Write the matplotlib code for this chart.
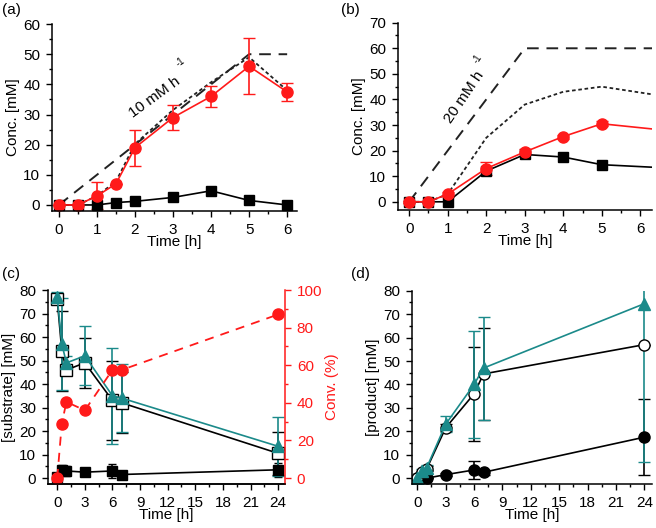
import matplotlib
matplotlib.use('Agg')
import matplotlib.pyplot as plt
from matplotlib.ticker import MultipleLocator
import numpy as np

plt.rcParams['font.family'] = ['Liberation Sans', 'DejaVu Sans']
plt.rcParams['font.size'] = 11
plt.rcParams['axes.linewidth'] = 1.1

RED = '#ff1a1a'
TEAL = '#1b8a8a'

# (a) 10 mM/h feed
t_a = [0, 0.5, 1, 1.5, 2, 3, 4, 5, 6]
red_a = [0, 0, 3, 7, 19, 29, 36, 46, 37.5]
red_a_err = [0, 0, 4.5, 0, 6, 4.3, 3.5, 9.3, 3]
blk_a = [0, 0, 0, 0.8, 1.2, 2.5, 4.7, 1.5, 0]
blk_a_err = [0, 0, 0, 0.3, 0.5, 0.6, 0.7, 0.5, 0.3]
sum_a = [0, 0, 3, 7.8, 20.2, 31.5, 40.7, 49, 38]
feed_a_t = [0, 5, 6]
feed_a = [0, 50, 50]

# (b) 20 mM/h feed
t_b = [0, 0.5, 1, 2, 3, 4, 5, 7]
red_b = [0, 0, 3, 13, 19.5, 25.5, 30.5, 27.4]
red_b_err = [0.5, 0.5, 1, 2.5, 1, 0.8, 1, 0]
blk_b = [0, 0, 0, 12, 18.5, 17.5, 14.5, 13]
blk_b_err = [0.3, 0.3, 0.3, 1, 1, 1, 1, 0]
sum_b = [0, 0, 3, 25, 38, 43, 45, 40.4]
feed_b_t = [0, 3, 7]
feed_b = [0, 60, 60]

# (c) substrate + conversion
t_cd = [0, 0.5, 1, 3, 6, 7, 24]
sub_tri = [77, 57, 49, 52, 35, 34, 13.5]
sub_tri_err = [2, 19.5, 3, 12.5, 20.5, 14.5, 12.5]
sub_open = [76, 54, 46, 49, 33, 32, 10.5]
sub_open_err = [1, 17, 1.5, 10.5, 17, 13, 9]
sub_fill = [0.5, 3.5, 3, 2.5, 3, 1.5, 3.5]
sub_fill_err = [0.5, 2, 2, 1, 3, 1, 3]
conv = [0, 29, 40.5, 36, 57.5, 57.5, 87]

# (d) product
prod_tri = [0, 3, 4.5, 23, 40, 47, 74.5]
prod_tri_err = [0, 1, 1, 3.5, 23, 22, 67.5]
prod_open = [0, 2.5, 4, 21.5, 36, 44.5, 57]
prod_open_err = [0, 0.5, 1, 1.5, 20, 19.5, 0]
prod_fill = [0, 0, 0, 1.5, 3.5, 2.5, 17.5]
prod_fill_err = [0, 0, 0, 0.5, 3.8, 1, 16.2]


def style(ax, xmin, ymin):
    ax.spines['top'].set_visible(False)
    ax.spines['right'].set_visible(False)
    ax.xaxis.set_minor_locator(MultipleLocator(xmin))
    ax.yaxis.set_minor_locator(MultipleLocator(ymin))
    ax.tick_params(which='major', length=4, width=1, pad=4.5)
    ax.tick_params(which='minor', length=2.5, width=1)
    ax.set_xlabel('Time [h]', labelpad=-1)


fig = plt.figure(figsize=(6.56, 5.28), dpi=100)
ax1 = fig.add_axes([0.0793, 0.6004, 0.3735, 0.354])
ax2 = fig.add_axes([0.6067, 0.6023, 0.387, 0.3547])
ax3 = fig.add_axes([0.0732, 0.0833, 0.3613, 0.3674])
ax4 = fig.add_axes([0.628, 0.0833, 0.3659, 0.366])

# (a)
ax1.plot(feed_a_t, feed_a, color='#222222', lw=1.4, dashes=(6, 4))
ax1.plot(t_a, sum_a, color='#222222', lw=1.3, dashes=(2, 1.5))
ax1.errorbar(t_a, blk_a, yerr=blk_a_err, color='black', marker='s', ms=7, lw=1.2, capsize=3)
ax1.errorbar(t_a, red_a, yerr=red_a_err, color=RED, marker='o', ms=8, lw=1.2, capsize=4, elinewidth=1.2)
ax1.set_xlim(-0.18, 6.26)
ax1.set_ylim(-2, 60)
ax1.set_xticks(range(0, 7))
ax1.set_yticks(range(0, 61, 10))
style(ax1, 0.5, 5)
ax1.set_ylabel('Conc. [mM]', labelpad=2)
ax1.text(2.53, 35.8, '10 mM h', rotation=36, ha='center', va='center', fontsize=11)
ax1.text(3.19, 47.4, '-1', rotation=36, ha='center', va='center', fontsize=7)
fig.text(0.003, 0.995, '(a)', ha='left', va='top', fontsize=11)

# (b)
ax2.plot(feed_b_t, feed_b, color='#222222', lw=1.4, dashes=(6, 4))
ax2.plot(t_b, sum_b, color='#222222', lw=1.3, dashes=(2, 1.5))
ax2.errorbar(t_b, blk_b, yerr=blk_b_err, color='black', marker='s', ms=7, lw=1.2, capsize=3)
ax2.errorbar(t_b, red_b, yerr=red_b_err, color=RED, marker='o', ms=8, lw=1.2, capsize=4)
ax2.set_xlim(-0.29, 6.3)
ax2.set_ylim(-3.2, 70)
ax2.set_xticks(range(0, 7))
ax2.set_yticks(range(0, 71, 10))
style(ax2, 0.5, 5)
ax2.set_ylabel('Conc. [mM]', labelpad=2)
ax2.text(1.43, 41, '20 mM h', rotation=56, ha='center', va='center', fontsize=11)
ax2.text(1.77, 56, '-1', rotation=56, ha='center', va='center', fontsize=7)
fig.text(0.52, 0.995, '(b)', ha='left', va='top', fontsize=11)

# (c)
ax3.errorbar(t_cd, sub_fill, yerr=sub_fill_err, color='black', marker='s', ms=7, lw=1.2, capsize=3)
ax3.errorbar(t_cd, sub_open, yerr=sub_open_err, color='black', marker='s', ms=8, mfc='white', lw=1.2, capsize=4)
ax3.errorbar(t_cd, sub_tri, yerr=sub_tri_err, color=TEAL, marker='^', ms=9, lw=1.2, capsize=4)
ax3.set_xlim(-1.0, 24.75)
ax3.set_ylim(-2.55, 80)
ax3.set_xticks(range(0, 25, 3))
ax3.set_yticks(range(0, 81, 10))
style(ax3, 1.5, 5)
ax3.set_ylabel('[substrate] [mM]', labelpad=2)
ax3r = ax3.twinx()
ax3r.plot(t_cd, conv, color=RED, marker='o', ms=8, lw=1.3, dashes=(5, 4))
ax3r.set_ylim(-2.55 * 100 / 80, 100)
ax3r.set_yticks(range(0, 101, 20))
ax3r.yaxis.set_minor_locator(MultipleLocator(10))
ax3r.spines['top'].set_visible(False)
ax3r.spines['left'].set_visible(False)
ax3r.spines['right'].set_color(RED)
ax3r.tick_params(axis='y', which='both', colors=RED)
ax3r.tick_params(which='major', length=4, width=1, pad=4.5)
ax3r.tick_params(which='minor', length=2.5, width=1)
ax3r.set_ylabel('Conv. (%)', color=RED, labelpad=2)
fig.text(0.003, 0.495, '(c)', ha='left', va='top', fontsize=11)

# (d)
ax4.errorbar(t_cd, prod_fill, yerr=prod_fill_err, color='black', marker='o', ms=8, lw=1.2, capsize=4)
ax4.errorbar(t_cd, prod_open, yerr=prod_open_err, color='black', marker='o', ms=8, mfc='white', lw=1.2, capsize=4)
ax4.errorbar(t_cd, prod_tri, yerr=prod_tri_err, color=TEAL, marker='^', ms=9, lw=1.2, capsize=4)
ax4.set_xlim(-0.56, 24.8)
ax4.set_ylim(-2.5, 80)
ax4.set_xticks(range(0, 25, 3))
ax4.set_yticks(range(0, 81, 10))
style(ax4, 1.5, 5)
ax4.set_ylabel('[product] [mM]', labelpad=2)
fig.text(0.535, 0.495, '(d)', ha='left', va='top', fontsize=11)

fig.savefig('out.png', dpi=100)
